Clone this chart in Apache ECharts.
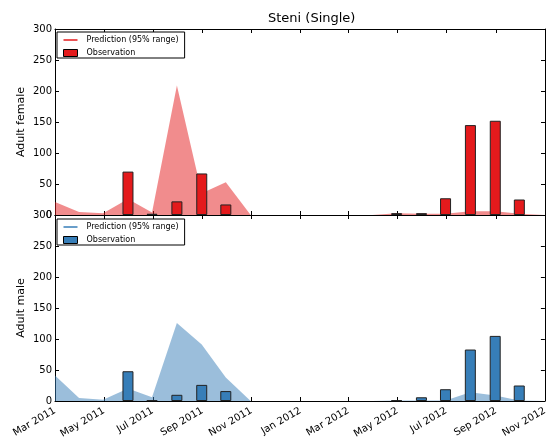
<!DOCTYPE html>
<html>
<head>
<meta charset="utf-8">
<script src="https://cdn.jsdelivr.net/npm/echarts@6/dist/echarts.min.js"></script>
<style>
  html, body { margin: 0; padding: 0; background: #fff; }
  #chart { width: 550px; height: 443px; }
</style>
</head>
<body>
<div id="chart"></div>
<script>
// Axis ticks (every second month) and their labels
const tickDates = ['2011-03-01', '2011-05-01', '2011-07-01', '2011-09-01', '2011-11-01', '2012-01-01',
                   '2012-03-01', '2012-05-01', '2012-07-01', '2012-09-01', '2012-11-01'];
const tickLabels = ['Mar 2011', 'May 2011', 'Jul 2011', 'Sep 2011', 'Nov 2011', 'Jan 2012',
                    'Mar 2012', 'May 2012', 'Jul 2012', 'Sep 2012', 'Nov 2012'];

// Model prediction, upper end of the 95% range (lower end sits at zero)
const predDates = ['2011-03-01', '2011-03-31', '2011-04-30', '2011-05-31', '2011-06-30', '2011-07-31',
                   '2011-08-31', '2011-09-30', '2011-10-31', '2011-11-30', '2011-12-31', '2012-01-31',
                   '2012-02-29', '2012-03-31', '2012-04-30', '2012-05-31', '2012-06-30', '2012-07-31',
                   '2012-08-31', '2012-09-30', '2012-10-31'];
const femalePredUpper = [21, 5, 3, 26, 4, 209, 35, 53, 0, 0, 0, 0, 0, 0, 3, 2, 2, 6, 6, 2, 0];
const malePredUpper   = [41, 5, 2, 20, 6, 126, 91, 38, 0, 0, 0, 0, 0, 0, 1, 1, 1, 14, 9, 1, 0];

// Field counts
const obsDates = ['2011-05-31', '2011-06-30', '2011-07-31', '2011-08-31', '2011-09-30',
                  '2012-04-30', '2012-05-31', '2012-06-30', '2012-07-31', '2012-08-31', '2012-09-30'];
const femaleObs = [70, 2, 22, 67, 17, 3, 3, 27, 145, 152, 25];
const maleObs   = [48, 1, 10, 26, 16, 1, 6, 19, 83, 105, 25];

const FONT = 'DejaVu Sans';
const RED = '#e41a1c';
const BLUE = '#377eb8';

// dates become day numbers (UTC) so the x axis is a plain linear scale
function toDay(s) {
  const p = s.split('-').map(Number);
  return Date.UTC(p[0], p[1] - 1, p[2]) / 86400000;
}
const tickDays = tickDates.map(toDay);
const xMin = tickDays[0];
const xMax = tickDays[tickDays.length - 1];
const labelFor = {};
tickDays.forEach((t, i) => { labelFor[t] = tickLabels[i]; });

const axisLine = { show: true, onZero: false, lineStyle: { color: '#000', width: 1 } };
const tickIn = { show: true, inside: true, length: 4, lineStyle: { color: '#000', width: 1 } };

function dateAxis(grid, pos, withLabels) {
  return {
    gridIndex: grid, type: 'value', position: pos, min: xMin, max: xMax,
    axisLine: axisLine,
    axisTick: Object.assign({ customValues: tickDays }, tickIn),
    axisLabel: {
      show: withLabels, customValues: tickDays, rotate: 30, margin: 9,
      fontSize: 10, fontFamily: FONT, color: '#000',
      formatter: v => labelFor[v] || ''
    },
    splitLine: { show: false }
  };
}
function valueAxis(grid, pos, name) {
  return {
    gridIndex: grid, type: 'value', position: pos, min: 0, max: 300, interval: 50,
    name: name || '', nameLocation: 'middle', nameGap: 28, nameMoveOverlap: false,
    nameTextStyle: { fontSize: 11, fontFamily: FONT, color: '#000' },
    axisLine: axisLine, axisTick: tickIn,
    axisLabel: { show: !!name, margin: 3, fontSize: 10, fontFamily: FONT, color: '#000' },
    splitLine: { show: false }
  };
}
function legendFor(top, color) {
  return {
    orient: 'vertical', left: 57, top: top,
    itemWidth: 14, itemHeight: 7, itemGap: 5,
    padding: [4, 6, 1, 6],
    borderColor: '#000', borderWidth: 1, borderRadius: 0, backgroundColor: '#fff',
    selectedMode: false, symbolKeepAspect: true,
    textStyle: { fontSize: 8, fontFamily: FONT, color: '#000', padding: [0, 0, 0, 4] },
    data: [
      { name: 'Prediction (95% range)', icon: 'path://M0,0L14,0L14,1.5L0,1.5Z',
        itemStyle: { color: color, borderWidth: 0 } },
      { name: 'Observation', icon: 'rect',
        itemStyle: { color: color, borderColor: '#000', borderWidth: 1 } }
    ]
  };
}
function bandSeries(axisIdx, values, fill) {
  return {
    name: 'Prediction (95% range)', type: 'line',
    xAxisIndex: axisIdx, yAxisIndex: axisIdx,
    data: predDates.map((d, i) => [toDay(d), values[i]]),
    symbol: 'none', silent: true, z: 1,
    lineStyle: { width: 0, color: fill },
    areaStyle: { color: fill, opacity: 1 }
  };
}
function barSeries(axisIdx, values, color) {
  return {
    name: 'Observation', type: 'bar',
    xAxisIndex: axisIdx, yAxisIndex: axisIdx,
    data: obsDates.map((d, i) => [toDay(d), values[i]]),
    barWidth: 11, z: 3,
    itemStyle: { color: color, borderColor: '#222', borderWidth: 1 }
  };
}

const chart = echarts.init(document.getElementById('chart'), null, { renderer: 'canvas' });
chart.setOption({
  animation: false,
  backgroundColor: '#fff',
  title: {
    text: 'Steni (Single)', left: 268, top: 12, padding: 0,
    textStyle: { fontSize: 13, fontWeight: 'normal', fontFamily: FONT, color: '#000' }
  },
  legend: [legendFor(32, RED), legendFor(219, BLUE)],
  grid: [
    { left: 55, top: 29, width: 490, height: 186, containLabel: false },
    { left: 55, top: 215, width: 490, height: 186, containLabel: false }
  ],
  xAxis: [
    dateAxis(0, 'bottom', false),
    dateAxis(1, 'bottom', true),
    dateAxis(0, 'top', false),
    dateAxis(1, 'top', false)
  ],
  yAxis: [
    valueAxis(0, 'left', 'Adult female'),
    valueAxis(1, 'left', 'Adult male'),
    valueAxis(0, 'right'),
    valueAxis(1, 'right')
  ],
  series: [
    bandSeries(0, femalePredUpper, 'rgba(228,26,28,0.5)'),
    barSeries(0, femaleObs, RED),
    bandSeries(1, malePredUpper, 'rgba(55,126,184,0.5)'),
    barSeries(1, maleObs, BLUE)
  ]
});
</script>
</body>
</html>
